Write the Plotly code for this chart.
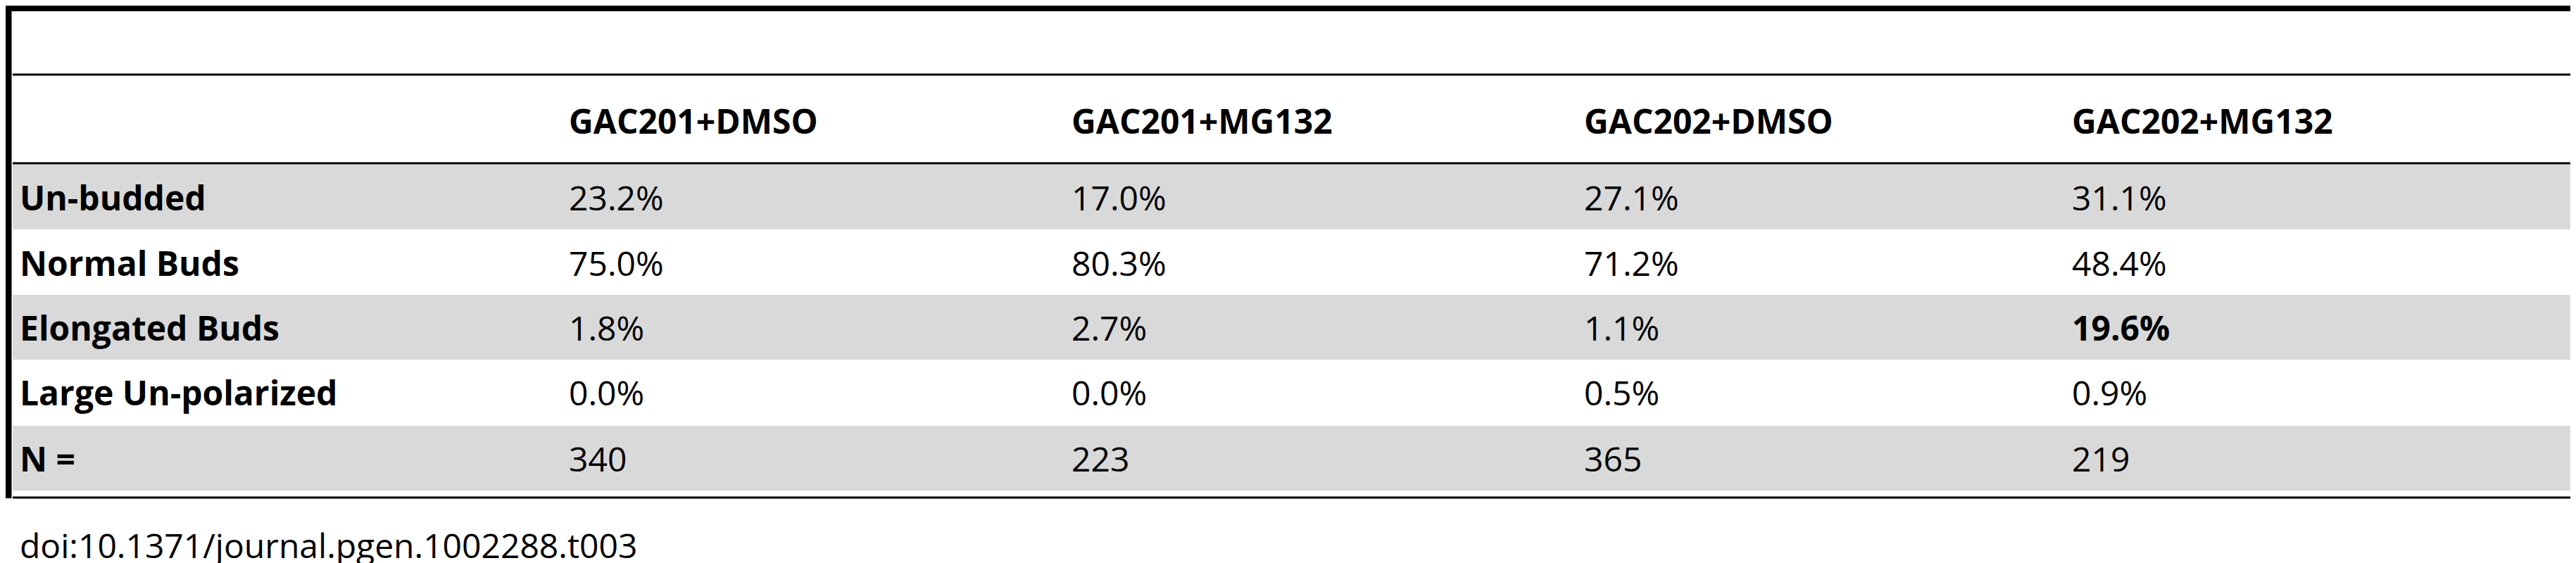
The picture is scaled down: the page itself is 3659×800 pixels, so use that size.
import plotly.graph_objects as go

columns = ["GAC201+DMSO", "GAC201+MG132", "GAC202+DMSO", "GAC202+MG132"]
row_labels = ["Un-budded", "Normal Buds", "Elongated Buds", "Large Un-polarized", "N ="]
values = [
    ["23.2%", "17.0%", "27.1%", "31.1%"],
    ["75.0%", "80.3%", "71.2%", "48.4%"],
    ["1.8%", "2.7%", "1.1%", "19.6%"],
    ["0.0%", "0.0%", "0.5%", "0.9%"],
    ["340", "223", "365", "219"],
]
bold_cells = [(2, 3)]
footer = "doi:10.1371/journal.pgen.1002288.t003"

W, H = 3659, 800
col_x = [798, 1512, 2240, 2933]
label_x = 18
header_y = 163
row_top = [226, 319, 411, 503, 597]
row_h = 92
font = "Open Sans"
fs = 48

fig = go.Figure()
shapes = []
for i, top in enumerate(row_top):
    if i % 2 == 0:
        shapes.append(dict(type="rect", x0=10, x1=W, y0=top, y1=top + row_h,
                           fillcolor="#d9d9d9", line=dict(width=0), layer="below"))
shapes += [
    dict(type="line", x0=0, x1=W, y0=4, y1=4, line=dict(color="black", width=8)),
    dict(type="line", x0=4, x1=4, y0=0, y1=700, line=dict(color="black", width=9)),
    dict(type="line", x0=10, x1=W, y0=98, y1=98, line=dict(color="black", width=3)),
    dict(type="line", x0=10, x1=W, y0=224, y1=224, line=dict(color="black", width=3)),
    dict(type="line", x0=10, x1=W, y0=699, y1=699, line=dict(color="black", width=3)),
]

ann = []
for c, name in enumerate(columns):
    ann.append(dict(x=col_x[c], y=header_y, text="<b>%s</b>" % name))
for r, lab in enumerate(row_labels):
    cy = row_top[r] + row_h / 2
    ann.append(dict(x=label_x, y=cy, text="<b>%s</b>" % lab))
    for c, v in enumerate(values[r]):
        t = "<b>%s</b>" % v if (r, c) in bold_cells else v
        ann.append(dict(x=col_x[c], y=cy, text=t))
ann.append(dict(x=label_x, y=766, text=footer))
for a in ann:
    a.update(xref="x", yref="y", xanchor="left", yanchor="middle", showarrow=False,
             font=dict(family=font, size=fs, color="black"))

fig.update_layout(
    width=W, height=H, margin=dict(l=0, r=0, t=0, b=0),
    paper_bgcolor="white", plot_bgcolor="white",
    xaxis=dict(range=[0, W], visible=False, fixedrange=True),
    yaxis=dict(range=[H, 0], visible=False, fixedrange=True),
    shapes=shapes, annotations=ann, showlegend=False,
)
fig.write_html("out.html")
